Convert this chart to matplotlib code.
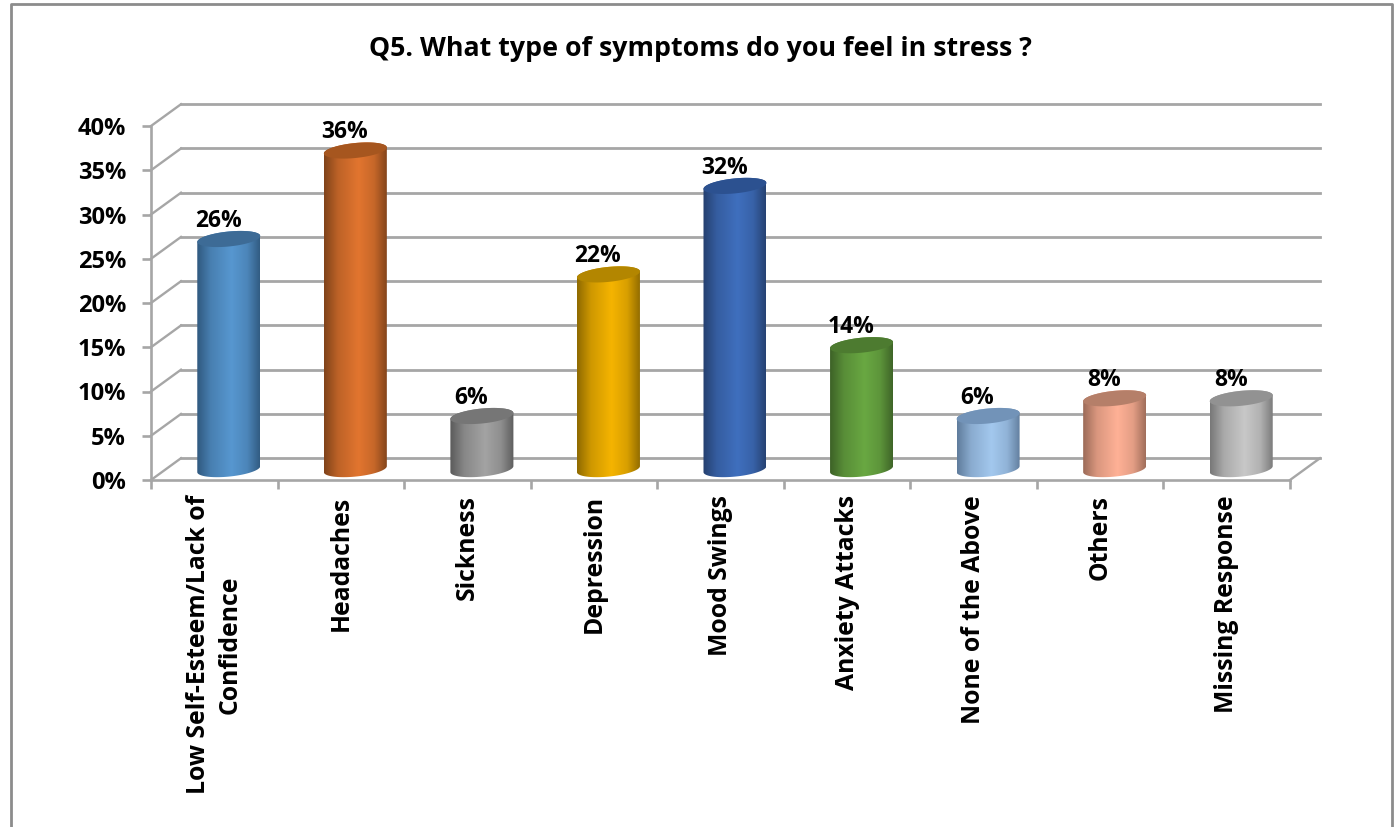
import numpy as np
import matplotlib
matplotlib.use('Agg')
import matplotlib.pyplot as plt
from matplotlib.colors import to_rgb
from matplotlib.lines import Line2D
from matplotlib.patches import Polygon
from matplotlib.transforms import offset_copy

# datos
categories = ['Low Self-Esteem/Lack of\nConfidence', 'Headaches', 'Sickness', 'Depression',
              'Mood Swings', 'Anxiety Attacks', 'None of the Above', 'Others', 'Missing Response']
values = [26, 36, 6, 22, 32, 14, 6, 8, 8]
y_ticks = [0, 5, 10, 15, 20, 25, 30, 35, 40]

# colores de cada cilindro: centro, borde, tapa
centre_colors = ['#5797D0', '#E2752F', '#A3A3A3', '#F5B400', '#3F6FBE', '#69A842', '#A3C8EE', '#FFB196', '#C8C8C8']
edge_colors = ['#30597F', '#80431A', '#5A5A5A', '#8F6A00', '#25406F', '#3D6227', '#607C9C', '#9C6B58', '#787878']
top_colors = ['#3D6B96', '#A6561F', '#767676', '#B38600', '#2C5190', '#4D7B30', '#7293B8', '#B57F69', '#929292']
grid_color = '#A6A6A6'

W, H = 1398, 827
plt.rcParams['font.family'] = ['Open Sans', 'Lato', 'DejaVu Sans']
plt.rcParams['font.weight'] = 'bold'

fig = plt.figure(figsize=(W / 100, H / 100), dpi=100, facecolor='white')
left, right, bottom, top = 151, 1290, 480, 126
ax = fig.add_axes([left / W, (H - bottom) / H, (right - left) / W, (bottom - top) / H])
ax.patch.set_alpha(0)

# conversion de pixeles a unidades de datos
px_x = 9 / (right - left)
px_y = 40 / (bottom - top)
depth_x, depth_y = 30 * px_x, 21.8 * px_y

# pared del fondo y diagonales de la pared lateral
for v in y_ticks:
    ax.plot([depth_x, 9 + depth_x], [v + depth_y, v + depth_y], color=grid_color, lw=2.0, clip_on=False, zorder=1)
    ax.plot([0, depth_x], [v, v + depth_y], color=grid_color, lw=1.7, clip_on=False, zorder=1)
ax.plot([9, 9 + depth_x], [0, depth_y], color=grid_color, lw=1.7, clip_on=False, zorder=1)


def ellipse(cx, cy, start, stop):
    t = np.linspace(start, stop, 60)
    x = cx + 31.5 * np.cos(t) * px_x
    y = cy + (7.5 * np.sin(t) + 3 * np.cos(t)) * px_y
    return np.column_stack([x, y])


# cilindros con degradado
stops = [0, 0.22, 0.55, 0.8, 1]
mix = [0, 0.62, 1, 0.72, 0.05]
label_tf = offset_copy(ax.transData, fig=fig, x=4, y=-1, units='dots')
for i, v in enumerate(values):
    cx = i + 0.5 + 14.5 * px_x
    cy_top = v + depth_y / 2
    cy_bot = depth_y / 2
    body = np.vstack([ellipse(cx, cy_top, np.pi, 0), ellipse(cx, cy_bot, 0, -np.pi)])
    m = np.interp(np.linspace(0, 1, 128), stops, mix)[None, :, None]
    img = np.array(to_rgb(edge_colors[i]))[None, None, :] * (1 - m) \
        + np.array(to_rgb(centre_colors[i]))[None, None, :] * m
    im = ax.imshow(img, aspect='auto', interpolation='bilinear', zorder=3,
                   extent=[cx - 31.5 * px_x, cx + 31.5 * px_x, -5, v + 5])
    im.set_clip_path(Polygon(body, closed=True, transform=ax.transData))
    ax.add_patch(Polygon(ellipse(cx, cy_top, 0, 2 * np.pi), closed=True, fc=top_colors[i], ec='none',
                         zorder=4, clip_on=False))
    ax.text(i + 0.5, cy_top + 19 * px_y, f'{v}%', transform=label_tf, ha='center', va='center',
            fontsize=16.5, fontweight='bold', color='black', zorder=5, clip_on=False)

ax.set_xlim(0, 9)
ax.set_ylim(0, 40)

# ejes
for name in ['top', 'right']:
    ax.spines[name].set_visible(False)
for name in ['left', 'bottom']:
    ax.spines[name].set_color(grid_color)
    ax.spines[name].set_linewidth(1.9)
ax.set_yticks(y_ticks)
ax.set_yticklabels([f'{v}%' for v in y_ticks], fontsize=17, fontweight='bold')
ax.set_xticks(range(10))
ax.set_xticklabels([])
ax.set_xticks(np.arange(9) + 0.5, categories, minor=True, rotation=90, fontsize=17.8, fontweight='bold',
              ha='center', va='top', multialignment='center', linespacing=1.35)
ax.tick_params(axis='both', which='major', color=grid_color, width=1.9, length=6.5)
ax.tick_params(axis='y', which='major', pad=11.5)
ax.tick_params(axis='x', which='minor', length=0, pad=11)

fig.text(700 / W, (H - 49) / H, 'Q5. What type of symptoms do you feel in stress ?', ha='center', va='center',
         fontsize=19.3, fontweight='bold', color='black')

# marco exterior del grafico (sin linea inferior)
fig.add_artist(Line2D([10.5 / W, 10.5 / W, 1392 / W, 1392 / W], [0, (H - 4) / H, (H - 4) / H, 0],
                      color='#8C8C8C', lw=2))

fig.savefig('out.png', dpi=100)
